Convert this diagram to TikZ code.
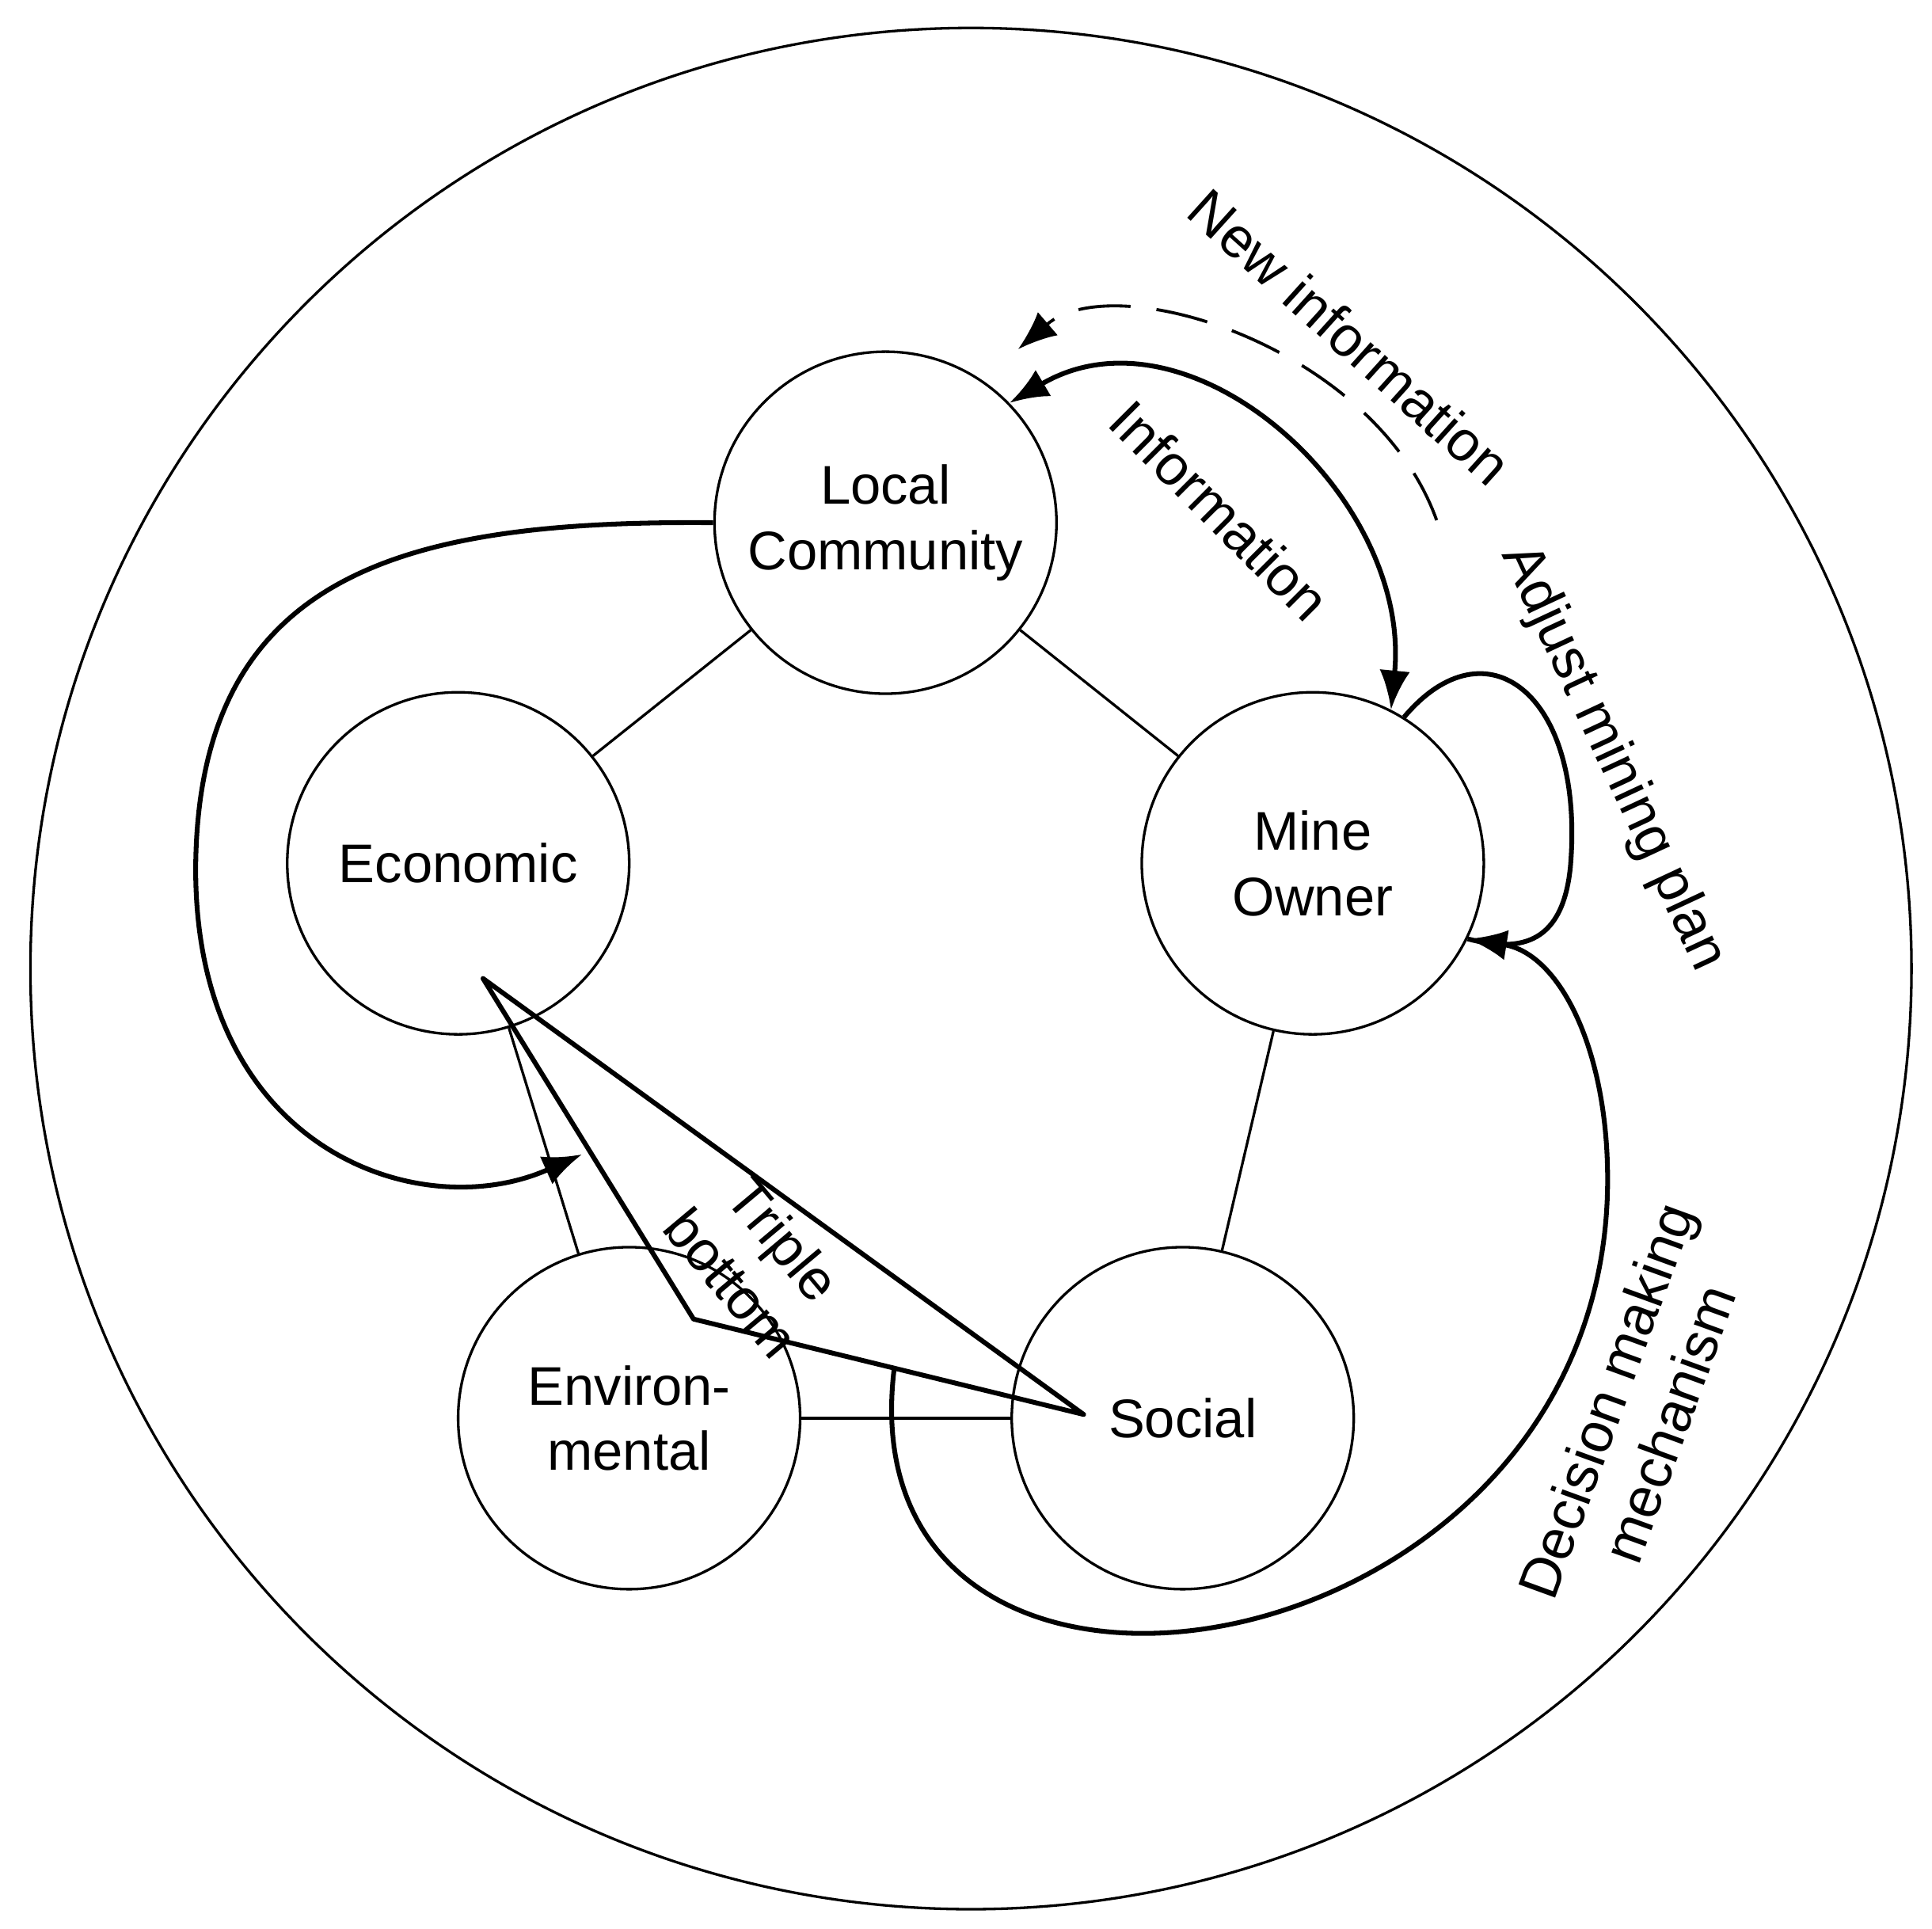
\documentclass[tikz,border=0pt]{standalone}
\usepackage{fontspec}
\setmainfont{Liberation Sans}
\usetikzlibrary{arrows.meta}
\begin{document}
\begin{tikzpicture}[x=0.01cm, y=-0.01cm, font=\fontsize{12.5}{15}\selectfont, align=center]

    % Styles
    \tikzstyle{actor} = [circle, draw, line width=0.6pt, minimum size=2.76cm, inner sep=0pt]
    \tikzstyle{link} = [line width=0.6pt]
    \tikzstyle{flow} = [line width=1.1pt, -{Latex[length=9pt, width=7pt]}]
    \tikzstyle{tag} = [font=\fontsize{13}{15.5}\selectfont]

    \useasboundingbox (0,0) rectangle (1560,1557);
    \node[draw, circle, line width=0.6pt, minimum size=15.18cm] (outer) at (784,782) {};

    % Actors
    \node[actor] (lc) at (715,422) {Local\\Community};
    \node[actor] (econ) at (370,697) {Economic};
    \node[actor] (mine) at (1060,697) {Mine\\Owner};
    \node[actor] (env) at (508,1145) {Environ-\\mental};
    \node[actor] (social) at (955,1145) {Social};

    % Links
    \draw[link] (lc) -- (econ);
    \draw[link] (lc) -- (mine);
    \draw[link] (mine) -- (social);
    \draw[link] (social) -- (env);
    \draw[link] (env) -- (econ);

    % Triple bottom
    \coordinate (tri_a) at (390,790);
    \coordinate (tri_b) at (875,1142);
    \coordinate (tri_c) at (560,1065);
    \draw[line width=1.1pt, line join=round] (tri_a) -- (tri_b) -- (tri_c) -- cycle;
    \node[tag, rotate=-50] (tri_label) at (612,1018) {Triple\\bottom};

    % Flows
    \coordinate (econ_in) at (470,932);
    \draw[flow] (lc.west) .. controls (330,420) and (160,460) .. (158,700) .. controls (157,930) and (340,990) .. (econ_in);
    \draw[flow, {Latex[length=9pt, width=7pt]}-{Latex[length=9pt, width=7pt]}] (lc.44) .. controls (960,240) and (1140,400) .. (mine.63);
    \node[tag, rotate=-45] (info_label) at (985,412) {Information};
    \coordinate (new_start) at (1160,420);
    \coordinate (new_end) at (822,282);
    \draw[flow, line width=0.7pt, dash pattern=on 12pt off 6pt] (new_start) .. controls (1110,280) and (900,215) .. (new_end);
    \node[tag, rotate=-42] (new_label) at (1090,272) {New information};
    \draw[line width=1.1pt] (mine.58) .. controls (1200,500) and (1280,560) .. (1268,700) .. controls (1262,760) and (1230,770) .. (mine.-26);
    \node[tag, rotate=-65] (adjust_label) at (1302,612) {Adjust mining plan};
    \coordinate (social_out) at (722,1105);
    \draw[flow] (social_out) .. controls (680,1450) and (1290,1360) .. (1298,960) .. controls (1300,850) and (1260,770) .. (mine.-26);
    \node[tag, rotate=70] (decision_label) at (1322,1140) {Decision making\\mechanism};

\end{tikzpicture}
\end{document}
